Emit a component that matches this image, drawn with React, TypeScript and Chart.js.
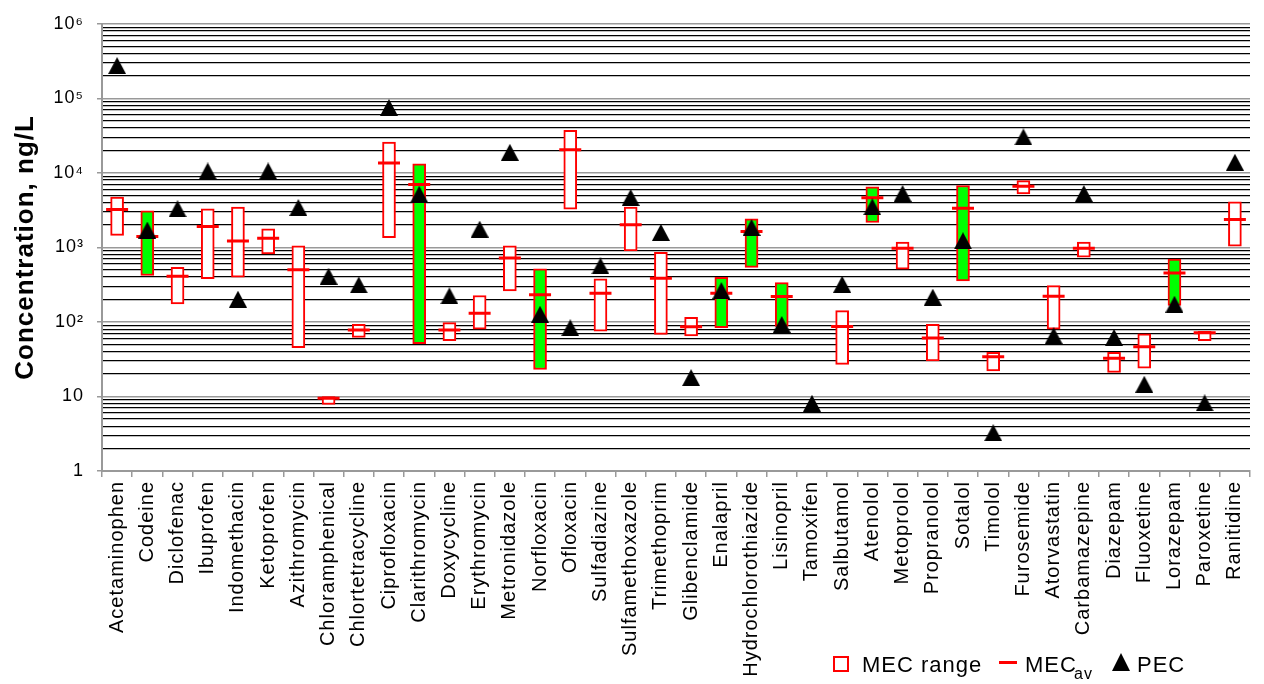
import React, { useEffect, useRef } from 'react';
import { Chart, registerables } from 'chart.js';

Chart.register(...registerables);

const categories = [
  'Acetaminophen', 'Codeine', 'Diclofenac', 'Ibuprofen', 'Indomethacin', 'Ketoprofen',
  'Azithromycin', 'Chloramphenical', 'Chlortetracycline', 'Ciprofloxacin', 'Clarithromycin',
  'Doxycycline', 'Erythromycin', 'Metronidazole', 'Norfloxacin', 'Ofloxacin', 'Sulfadiazine',
  'Sulfamethoxazole', 'Trimethoprim', 'Glibenclamide', 'Enalapril', 'Hydrochlorothiazide',
  'Lisinopril', 'Tamoxifen', 'Salbutamol', 'Atenolol', 'Metoprolol', 'Propranolol', 'Sotalol',
  'Timolol', 'Furosemide', 'Atorvastatin', 'Carbamazepine', 'Diazepam', 'Fluoxetine',
  'Lorazepam', 'Paroxetine', 'Ranitidine',
];

const mecMin = [
  1450, 420, 175, 380, 400, 820, 45, 7.8, 62, 1350, 51, 56, 80, 260, 23, 3260, 75, 900, 68,
  65, 84, 540, 87, null, 27, 2160, 510, 30, 355, 22, 5230, 80, 740, 21, 24, 166, 56, 1040,
];

const mecMax = [
  4720, 3100, 540, 3290, 3470, 1780, 1050, 10, 93, 25900, 13200, 98, 226, 1050, 514, 37100,
  378, 3470, 860, 115, 397, 2420, 337, null, 142, 6490, 1180, 93, 6760, 39, 7880, 307, 1180,
  39, 69, 699, 75, 4090,
];

const mecAvg = [
  3230, 1400, 410, 1910, 1220, 1330, 503, 9.5, 78, 13600, 6970, 78, 131, 721, 231, 20500, 243,
  2010, 385, 86, 243, 1640, 219, null, 87, 4620, 971, 61, 3360, 34, 6620, 221, 971, 32.5, 46.5,
  454, 71.6, 2370,
];

const pec = [
  275000, 1710, 3300, 10600, 202, 10600, 3430, 410, 314, 75400, 5170, 224, 1760, 18900, 127,
  83.5, 563, 4670, 1590, 17.9, 264, 1850, 92.5, 8.1, 320, 3500, 5280, 215, 1230, 3.26, 30300,
  65.3, 5280, 62, 14.6, 173, 8.2, 13900,
];

const filledRanges = [
  'Codeine', 'Clarithromycin', 'Norfloxacin', 'Enalapril', 'Hydrochlorothiazide', 'Lisinopril',
  'Atenolol', 'Sotalol', 'Lorazepam',
];

const yDecades = [1, 10, 100, 1000, 10000, 100000, 1000000];
const yDecadeLabels = ['1', '10', '10\u00B2', '10\u00B3', '10\u2074', '10\u2075', '10\u2076'];
const yMinorSteps = [2, 3, 4, 5, 6, 7, 8, 9];

const FONT = "'Liberation Sans', Arial, sans-serif";

function isDecade(v: number) {
  const l = Math.log10(v);
  return Math.abs(l - Math.round(l)) < 1e-9;
}

function makeTriangle(w: number, h: number, color: string) {
  const c = document.createElement('canvas');
  c.width = w;
  c.height = h;
  const g = c.getContext('2d')!;
  g.fillStyle = color;
  g.beginPath();
  g.moveTo(w / 2, 0);
  g.lineTo(w, h);
  g.lineTo(0, h);
  g.closePath();
  g.fill();
  return c;
}

const spacingPlugin = {
  id: 'letterSpacing',
  beforeLayout(chart: any) {
    chart.ctx.letterSpacing = '1px';
  },
  beforeDraw(chart: any) {
    chart.ctx.letterSpacing = '1px';
  },
};

function Txt({ left, top, size, children }: any) {
  return (
    <div
      style={{
        position: 'absolute',
        left,
        top,
        fontFamily: FONT,
        fontSize: size,
        lineHeight: 1,
        letterSpacing: '1px',
        whiteSpace: 'nowrap',
        color: '#000',
      }}
    >
      {children}
    </div>
  );
}

export default function App() {
  const canvasRef = useRef<HTMLCanvasElement | null>(null);

  useEffect(() => {
    document.body.style.margin = '0';
    const canvas = canvasRef.current;
    if (!canvas) return;

    const yGridValues: number[] = [];
    yDecades.forEach((d, i) => {
      yGridValues.push(d);
      if (i < yDecades.length - 1) yMinorSteps.forEach((m) => yGridValues.push(d * m));
    });

    const ranges = categories.map((_, i) =>
      mecMin[i] == null || mecMax[i] == null ? null : [mecMin[i], mecMax[i]]
    );
    const triangle = makeTriangle(18, 17, '#000000');

    const chart = new Chart(canvas, {
      type: 'bar',
      data: {
        labels: categories,
        datasets: [
          {
            type: 'line',
            label: 'PEC',
            data: pec,
            showLine: false,
            pointStyle: triangle,
            pointRadius: 9,
            pointHoverRadius: 9,
            order: 0,
          } as any,
          {
            type: 'line',
            label: 'MEC av',
            data: mecAvg,
            showLine: false,
            pointStyle: 'line',
            pointRadius: 11,
            pointHoverRadius: 11,
            pointBorderWidth: 3,
            pointHoverBorderWidth: 3,
            pointBorderColor: '#FF0000',
            pointBackgroundColor: '#FF0000',
            order: 1,
          } as any,
          {
            type: 'bar',
            label: 'MEC range',
            data: ranges,
            backgroundColor: categories.map((c) => (filledRanges.includes(c) ? '#00FF00' : '#FFFFFF')),
            borderColor: '#FF0000',
            borderWidth: 2,
            borderSkipped: false,
            barThickness: 13,
            order: 2,
          } as any,
        ],
      },
      options: {
        responsive: true,
        maintainAspectRatio: false,
        animation: false,
        events: [],
        layout: { padding: { top: 23, right: 6, left: 0, bottom: 0 } },
        plugins: {
          legend: { display: false },
          tooltip: { enabled: false },
        },
        scales: {
          x: {
            type: 'category',
            offset: true,
            grid: {
              display: true,
              offset: true,
              drawOnChartArea: false,
              drawTicks: true,
              tickLength: 6,
              color: '#999999',
              lineWidth: 1.5,
            },
            border: { display: true, color: '#999999', width: 2 },
            ticks: {
              autoSkip: false,
              maxRotation: 90,
              minRotation: 90,
              padding: 4,
              color: '#000000',
              font: { family: FONT, size: 20 },
            },
            afterFit: (s: any) => {
              s.height = 213;
            },
          },
          y: {
            type: 'logarithmic',
            min: 1,
            max: 1000000,
            afterBuildTicks: (s: any) => {
              s.ticks = yGridValues.map((v) => ({ value: v, major: isDecade(v) }));
            },
            grid: {
              drawTicks: true,
              tickLength: 5,
              color: (ctx: any) => (ctx.tick && isDecade(ctx.tick.value) ? '#999999' : '#000000'),
              lineWidth: (ctx: any) => (ctx.tick && isDecade(ctx.tick.value) ? 1.5 : 1.2),
              tickColor: (ctx: any) =>
                ctx.tick && isDecade(ctx.tick.value) ? '#999999' : 'rgba(0,0,0,0)',
            },
            border: { display: true, color: '#999999', width: 2 },
            ticks: {
              autoSkip: false,
              padding: 13,
              color: '#000000',
              font: { family: FONT, size: 18 },
              callback: (v: any) => {
                const idx = yDecades.findIndex((d) => Math.abs(d - Number(v)) < 1e-6 * d);
                return idx >= 0 ? yDecadeLabels[idx] : '';
              },
            },
            title: {
              display: true,
              text: 'Concentration, ng/L',
              color: '#000000',
              font: { family: FONT, size: 26, weight: 'bold' },
              padding: { top: 10, bottom: 0 },
            },
            afterFit: (s: any) => {
              s.width = 102;
            },
          },
        },
      } as any,
      plugins: [spacingPlugin],
    });

    return () => {
      chart.destroy();
    };
  }, []);

  return (
    <div style={{ position: 'fixed', left: 0, top: 0, width: 1264, height: 684, background: '#fff' }}>
      <canvas ref={canvasRef} />
      <div
        style={{
          position: 'absolute',
          left: 833,
          top: 656,
          width: 16,
          height: 16,
          border: '2px solid #FF0000',
          boxSizing: 'border-box',
          background: '#fff',
        }}
      />
      <Txt left={862} top={654} size={22}>MEC range</Txt>
      <div style={{ position: 'absolute', left: 999, top: 661, width: 18, height: 3, background: '#FF0000' }} />
      <Txt left={1025} top={654} size={22}>MEC</Txt>
      <Txt left={1074} top={666} size={16}>av</Txt>
      <div
        style={{
          position: 'absolute',
          left: 1112,
          top: 653,
          width: 18,
          height: 18,
          background: '#000',
          clipPath: 'polygon(50% 0, 100% 100%, 0 100%)',
        }}
      />
      <Txt left={1137} top={654} size={22}>PEC</Txt>
    </div>
  );
}
